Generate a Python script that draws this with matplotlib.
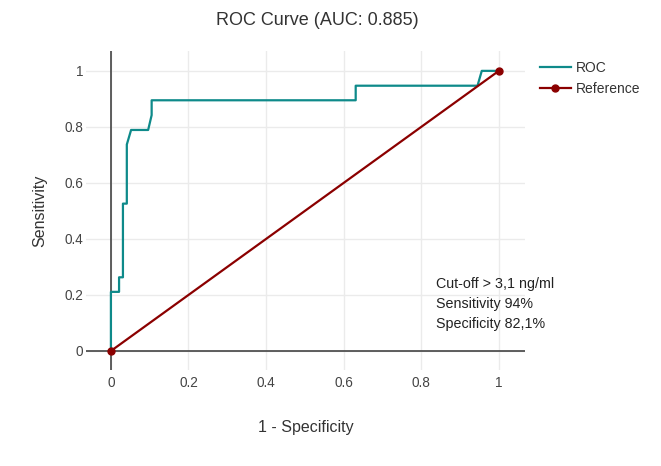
import numpy as np
import matplotlib
matplotlib.use('Agg')
import matplotlib.pyplot as plt

plt.rcParams['font.family'] = ['Liberation Sans', 'DejaVu Sans']

# ROC curve points (1 - specificity, sensitivity)
fpr = [0.0, 0.0, 0.021, 0.021, 0.031, 0.031, 0.041, 0.041, 0.052, 0.096, 0.105, 0.105,
       0.631, 0.631, 0.945, 0.956, 1.0]
tpr = [0.0, 0.211, 0.211, 0.263, 0.263, 0.526, 0.526, 0.737, 0.789, 0.789, 0.842, 0.895,
       0.895, 0.947, 0.947, 1.0, 1.0]
ref_x = [0, 1]
ref_y = [0, 1]
ticks = [0, 0.2, 0.4, 0.6, 0.8, 1]
tick_labels = ['0', '0.2', '0.4', '0.6', '0.8', '1']
notes = ['Cut-off \u02c3 3,1 ng/ml', 'Sensitivity 94%', 'Specificity 82,1%']

fig = plt.figure(figsize=(6.61, 4.66), dpi=100)
ax = fig.add_axes([0.130, 0.206, 0.664, 0.6846])

ax.plot(fpr, tpr, color='#0e8a8a', linewidth=1.6, label='ROC', zorder=3)
ax.plot(ref_x, ref_y, color='#8b0000', linewidth=1.6, marker='o', markersize=5,
        label='Reference', zorder=4)

ax.set_xlim(-0.0644, 1.067)
ax.set_ylim(-0.068, 1.071)
ax.set_xticks(ticks)
ax.set_xticklabels(tick_labels)
ax.set_yticks(ticks)
ax.set_yticklabels(tick_labels)
ax.grid(True, color='#ebebeb', linewidth=1)
ax.set_axisbelow(True)
for s in ax.spines.values():
    s.set_visible(False)
ax.axhline(0, color='#444444', linewidth=1.2, zorder=2)
ax.axvline(0, color='#444444', linewidth=1.2, zorder=2)
ax.tick_params(axis='x', length=0, labelsize=9.8, labelcolor='#444444', pad=4)
ax.tick_params(axis='y', length=0, labelsize=9.8, labelcolor='#444444', pad=2)

ax.set_xlabel('1 - Specificity', fontsize=11.5, color='#333333', labelpad=22)
ax.set_ylabel('Sensitivity', fontsize=11.5, color='#333333', labelpad=12)
fig.text(0.48, 0.957, 'ROC Curve (AUC: 0.885)', fontsize=13, color='#333333',
         ha='center', va='center')

for i, note in enumerate(notes):
    ax.text(0.838, 0.239 - i * 0.072, note, fontsize=10.3, color='#222222',
            va='center', ha='left')

ax.legend(loc='upper left', bbox_to_anchor=(1.022, 0.985), frameon=False,
          fontsize=10, handlelength=2.2, handletextpad=0.4, labelcolor='#333333',
          borderaxespad=0)

fig.savefig('out.png', dpi=100)
